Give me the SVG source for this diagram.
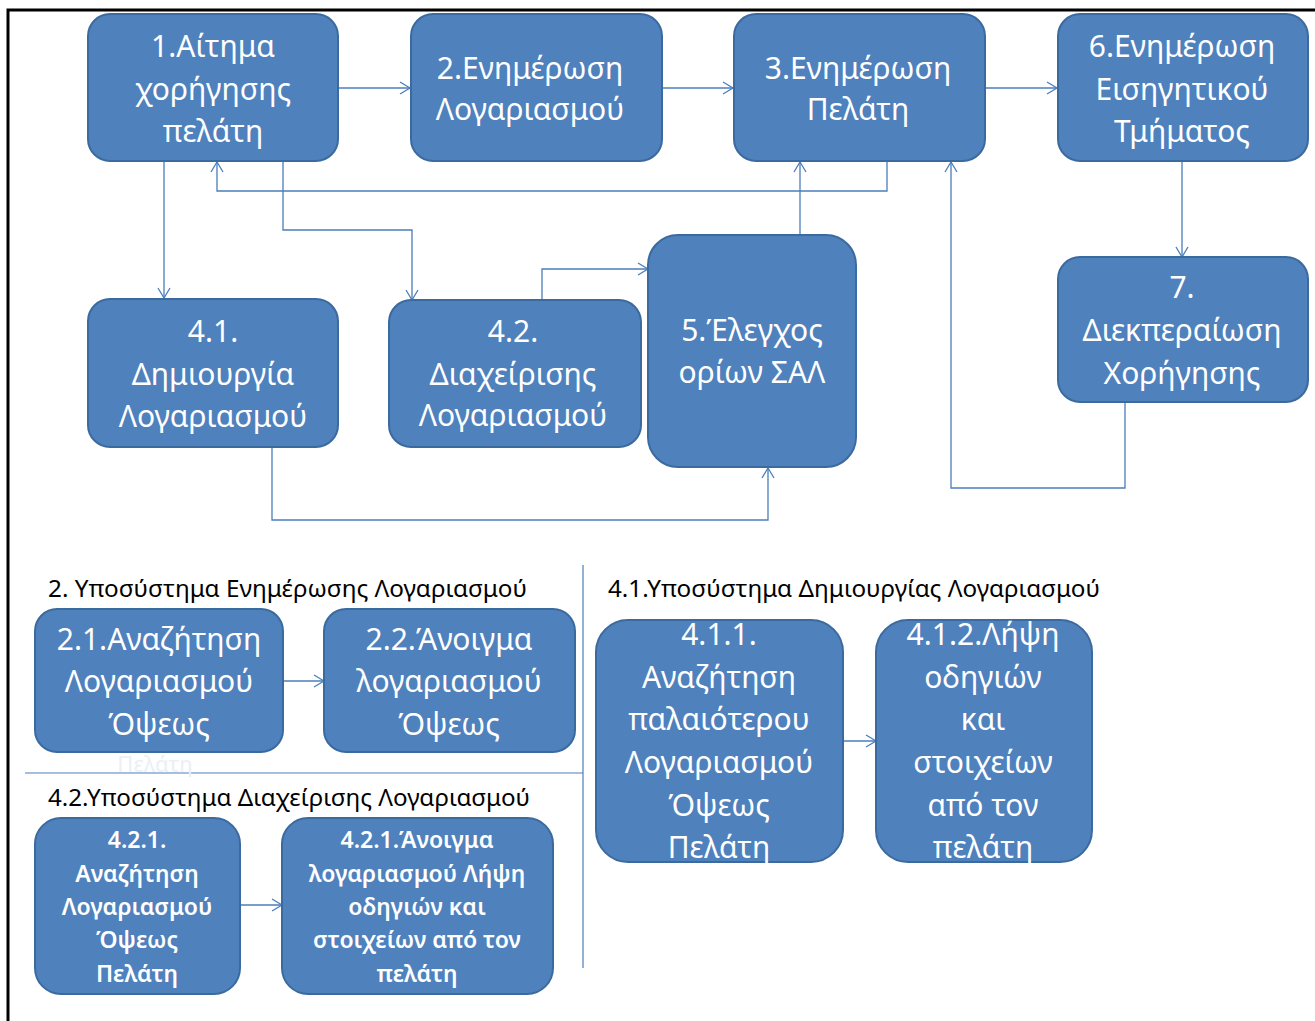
<svg xmlns="http://www.w3.org/2000/svg" width="1315" height="1021" viewBox="0 0 1315 1021">
<style>
.node rect{fill:#4F81BD;stroke:#3B6A9F;stroke-width:2}
.node text{fill:#FFFFFF;font-family:"Noto Sans","Open Sans",sans-serif;font-size:30px;text-anchor:middle}
.node text.sm{font-size:23px;font-weight:600}
.conn path{fill:none;stroke:#4A7EBB;stroke-width:1.3}
.hdr{fill:#000000;font-family:"Noto Sans","Open Sans",sans-serif;font-size:23px}
.div{stroke:#4A7EBB;stroke-width:1.2;fill:none}
</style>
<defs>
<marker id="ah" markerUnits="userSpaceOnUse" markerWidth="14" markerHeight="14" refX="11" refY="7" orient="auto">
<path d="M1,1 L11,7 L1,13" fill="none" stroke="#4A7EBB" stroke-width="1.3"/>
</marker>
</defs>
<rect x="0" y="0" width="1315" height="1021" fill="#FFFFFF"/>
<path d="M8,1021 L8,10 L1315,10" fill="none" stroke="#000000" stroke-width="3"/>

<g class="conn">
<path d="M339,88 L410,88" marker-end="url(#ah)"/>
<path d="M662,88 L733,88" marker-end="url(#ah)"/>
<path d="M985,88 L1057,88" marker-end="url(#ah)"/>
<path d="M1182,161 L1182,257" marker-end="url(#ah)"/>
<path d="M1125,403 L1125,488 L951,488 L951,162" marker-end="url(#ah)"/>
<path d="M887,161 L887,191 L217,191 L217,162" marker-end="url(#ah)"/>
<path d="M164,161 L164,298" marker-end="url(#ah)"/>
<path d="M283,161 L283,230 L412,230 L412,300" marker-end="url(#ah)"/>
<path d="M542,300 L542,269 L648,269" marker-end="url(#ah)"/>
<path d="M800,235 L800,162" marker-end="url(#ah)"/>
<path d="M272,447 L272,520 L768,520 L768,468" marker-end="url(#ah)"/>
<path d="M283,681 L324,681" marker-end="url(#ah)"/>
<path d="M843,741 L876,741" marker-end="url(#ah)"/>
<path d="M240,905 L282,905" marker-end="url(#ah)"/>
</g>

<path class="div" d="M583,565 L583,968"/>
<path class="div" d="M25,773 L583,773"/>

<text class="hdr" x="48" y="597" textLength="479" lengthAdjust="spacingAndGlyphs">2. Υποσύστημα Ενημέρωσης Λογαριασμού</text>
<text class="hdr" x="608" y="597" textLength="492" lengthAdjust="spacingAndGlyphs">4.1.Υποσύστημα Δημιουργίας Λογαριασμού</text>
<text class="hdr" x="48" y="806" textLength="482" lengthAdjust="spacingAndGlyphs">4.2.Υποσύστημα Διαχείρισης Λογαριασμού</text>

<g id="n1" class="node"><rect x="88" y="14" width="250" height="147" rx="22"/>
<text x="213" y="57">1.Αίτημα</text><text x="213" y="100">χορήγησης</text><text x="213" y="142">πελάτη</text></g>
<g id="n2" class="node"><rect x="411" y="14" width="251" height="147" rx="22"/>
<text x="530" y="79">2.Ενημέρωση</text><text x="530" y="120">Λογαριασμού</text></g>
<g id="n3" class="node"><rect x="734" y="14" width="251" height="147" rx="22"/>
<text x="858" y="79">3.Ενημέρωση</text><text x="858" y="120">Πελάτη</text></g>
<g id="n6" class="node"><rect x="1058" y="14" width="250" height="147" rx="22"/>
<text x="1182" y="57">6.Ενημέρωση</text><text x="1182" y="100">Εισηγητικού</text><text x="1182" y="142">Τμήματος</text></g>
<g id="n7" class="node"><rect x="1058" y="257" width="250" height="145" rx="22"/>
<text x="1182" y="298">7.</text><text x="1182" y="341">Διεκπεραίωση</text><text x="1182" y="384">Χορήγησης</text></g>
<g id="n41" class="node"><rect x="88" y="299" width="250" height="148" rx="22"/>
<text x="213" y="342">4.1.</text><text x="213" y="385">Δημιουργία</text><text x="213" y="427">Λογαριασμού</text></g>
<g id="n42" class="node"><rect x="389" y="300" width="252" height="147" rx="22"/>
<text x="513" y="342">4.2.</text><text x="513" y="385">Διαχείρισης</text><text x="513" y="426">Λογαριασμού</text></g>
<g id="n5" class="node"><rect x="648" y="235" width="208" height="232" rx="30"/>
<text x="752" y="341">5.Έλεγχος</text><text x="752" y="383">ορίων ΣΑΛ</text></g>

<text x="155" y="772" fill="#EBEFF6" font-family="Noto Sans, sans-serif" font-size="22" text-anchor="middle">Πελάτη</text>
<g id="n21" class="node"><rect x="35" y="609" width="248" height="143" rx="22"/>
<text x="159" y="650">2.1.Αναζήτηση</text><text x="159" y="692">Λογαριασμού</text><text x="159" y="735">Όψεως</text></g>
<g id="n22" class="node"><rect x="324" y="609" width="251" height="143" rx="22"/>
<text x="449" y="650">2.2.Άνοιγμα</text><text x="449" y="692">λογαριασμού</text><text x="449" y="735">Όψεως</text></g>
<g id="n411" class="node"><rect x="596" y="620" width="247" height="242" rx="32"/>
<text x="719" y="645">4.1.1.</text><text x="719" y="688">Αναζήτηση</text><text x="719" y="730">παλαιότερου</text><text x="719" y="773">Λογαριασμού</text><text x="719" y="816">Όψεως</text><text x="719" y="858">Πελάτη</text></g>
<g id="n412" class="node"><rect x="876" y="620" width="216" height="242" rx="32"/>
<text x="983" y="645">4.1.2.Λήψη</text><text x="983" y="688">οδηγιών</text><text x="983" y="730">και</text><text x="983" y="773">στοιχείων</text><text x="983" y="816">από τον</text><text x="983" y="858">πελάτη</text></g>
<g id="n421" class="node"><rect x="35" y="818" width="205" height="176" rx="26"/>
<text class="sm" x="137" y="848">4.2.1.</text><text class="sm" x="137" y="882">Αναζήτηση</text><text class="sm" x="137" y="915">Λογαριασμού</text><text class="sm" x="137" y="948">Όψεως</text><text class="sm" x="137" y="982">Πελάτη</text></g>
<g id="n422" class="node"><rect x="282" y="818" width="271" height="176" rx="26"/>
<text class="sm" x="417" y="848">4.2.1.Άνοιγμα</text><text class="sm" x="417" y="882">λογαριασμού Λήψη</text><text class="sm" x="417" y="915">οδηγιών και</text><text class="sm" x="417" y="948">στοιχείων από τον</text><text class="sm" x="417" y="982">πελάτη</text></g>
</svg>
